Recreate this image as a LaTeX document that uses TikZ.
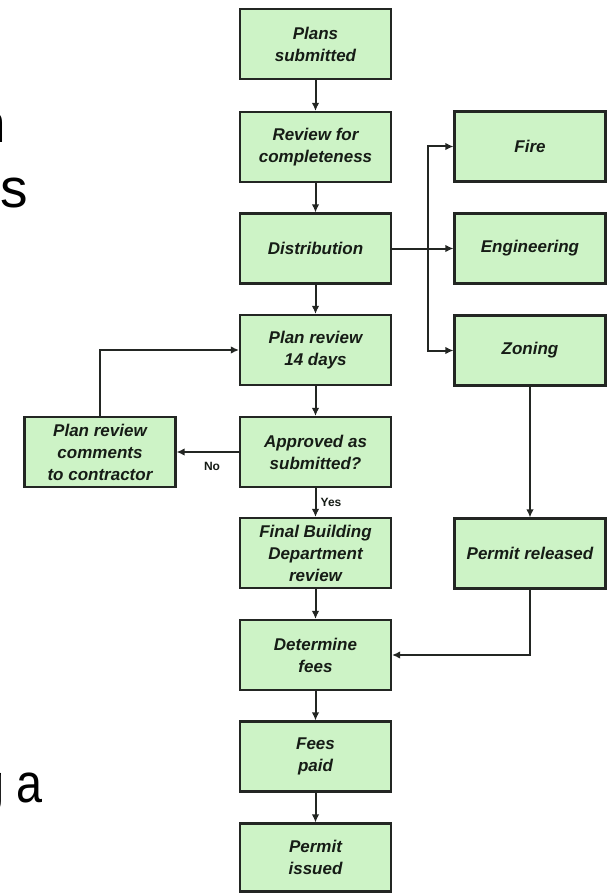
\documentclass[tikz,border=0pt]{standalone}
\usepackage{fontspec}
\setmainfont{Liberation Sans}
\usetikzlibrary{arrows.meta}
\definecolor{boxfill}{RGB}{205,243,198}
\definecolor{boxline}{RGB}{35,38,35}
\definecolor{txt}{RGB}{22,28,22}
\tikzset{
  x=1pt, y=-1pt,
  stepbox/.style={draw=boxline, line width=2.1pt, fill=boxfill, minimum width=151pt, minimum height=70pt, inner sep=0pt, align=center, text=txt, font=\fontsize{17}{22}\selectfont\bfseries\itshape},
  conn/.style={draw=boxline, line width=2pt},
  arr/.style={conn, -{Latex[length=8pt,width=7.5pt]}},
  lbl/.style={font=\fontsize{12}{14}\selectfont\bfseries, text=txt, inner sep=0pt},
  frag/.style={font=\fontsize{55}{60}\selectfont, inner sep=0pt, text=black}
}
\begin{document}
\begin{tikzpicture}
\useasboundingbox (0,0) rectangle (609,893);
% fragments of cut-off slide text
\node[frag, anchor=base east] (fn) at (6,143) {n};
\node[frag, anchor=base west] (fs) at (0,208) {s};
\node[frag, anchor=base east] (fg) at (5,802) {g};
\node[frag, anchor=base west, xscale=0.85] (fa) at (16,802) {a};
% main column
\node[stepbox] (b1) at (315.5,44) {Plans\\submitted};
\node[stepbox] (b2) at (315.5,147) {Review for\\completeness};
\node[stepbox] (b3) at (315.5,248.5) {Distribution};
\node[stepbox] (b4) at (315.5,350) {Plan review\\14 days};
\node[stepbox] (b5) at (315.5,452) {Approved as\\submitted?};
\node[stepbox] (b6) at (315.5,553) {Final Building\\Department\\review};
\node[stepbox] (b7) at (315.5,655) {Determine\\fees};
\node[stepbox] (b8) at (315.5,756.5) {Fees\\paid};
\node[stepbox, minimum height=68pt] (b9) at (315.5,857.5) {Permit\\issued};
% right column
\node[stepbox] (fire) at (530,146.5) {Fire};
\node[stepbox] (eng) at (530,248.5) {Engineering};
\node[stepbox] (zon) at (530,350.5) {Zoning};
\node[stepbox] (rel) at (530,553.5) {Permit released};
% left
\node[stepbox] (cmt) at (100,452) {Plan review\\comments\\to contractor};
% connectors
\draw[arr] (b1) -- (b2);
\draw[arr] (b2) -- (b3);
\draw[arr] (b3) -- (b4);
\draw[arr] (b4) -- (b5);
\draw[arr] (b5) -- (b6);
\draw[arr] (b6) -- (b7);
\draw[arr] (b7) -- (b8);
\draw[arr] (b8) -- (b9);
\coordinate (br) at (428,248.5);
\draw[arr] (b3.east) -- (eng.west);
\draw[arr] (br) |- (fire.west);
\draw[arr] (br) |- (zon.west);
\draw[arr] (zon) -- (rel);
\draw[arr] (rel.south) |- (b7.east);
\draw[arr] (b5.west) -- (cmt.east);
\draw[arr] (cmt.north) |- (b4.west);
\node[lbl] (no) at (212,466) {No};
\node[lbl] (yes) at (331,502) {Yes};
\end{tikzpicture}
\end{document}
